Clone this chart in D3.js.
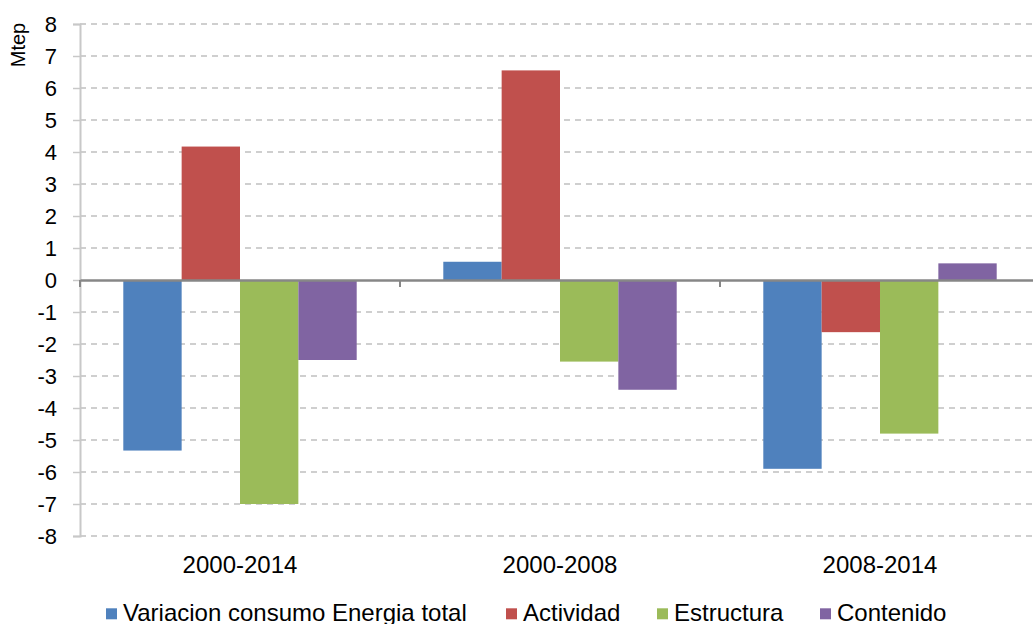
<!DOCTYPE html>
<html><head><meta charset="utf-8">
<script src="https://cdn.jsdelivr.net/npm/d3@7"></script>
<style>body{margin:0;background:#fff}svg{display:block;font-family:"Liberation Sans",Arial,sans-serif}</style>
</head><body>
<svg id="c" width="1033" height="624"></svg>
<script>
const categories = ["2000-2014", "2000-2008", "2008-2014"];
const seriesNames = ["Variacion consumo Energia total", "Actividad", "Estructura", "Contenido"];
const seriesColors = ["#4f81bd", "#c0504d", "#9bbb59", "#8064a2"];
const variacion = [-5.33, 0.57, -5.9];
const actividad = [4.17, 6.55, -1.63];
const estructura = [-7.0, -2.55, -4.8];
const contenido = [-2.5, -3.43, 0.52];
const yTicks = d3.range(-8, 9, 1);
const seriesValues = [variacion, actividad, estructura, contenido];

const FONT = '"Liberation Sans",Arial,sans-serif';
const svg = d3.select("#c");
const x = d3.scaleBand().domain(categories).range([80, 1040]).paddingInner(0).paddingOuter(0);
const xs = d3.scaleBand().domain(seriesNames).range([43.3, 320 - 43.3]);
const y = d3.scaleLinear().domain([-8, 8]).range([536, 24]);

// gridlines
svg.append("g").selectAll("line").data(yTicks.filter(d => d !== 0)).join("line")
  .attr("x1", 80).attr("x2", 1040)
  .attr("y1", d => y(d)).attr("y2", d => y(d))
  .attr("stroke", "#c0c0c0").attr("stroke-width", 1.3).attr("stroke-dasharray", "6,5");

// bars
const data = [];
categories.forEach((c, i) => seriesNames.forEach((s, j) => data.push({c, s, v: seriesValues[j][i], color: seriesColors[j]})));
svg.append("g").selectAll("rect").data(data).join("rect")
  .attr("x", d => x(d.c) + xs(d.s))
  .attr("width", xs.bandwidth())
  .attr("y", d => Math.min(y(d.v), y(0)))
  .attr("height", d => Math.abs(y(d.v) - y(0)))
  .attr("fill", d => d.color);

// y axis
const yAxis = d3.axisLeft(y).tickValues(yTicks).tickSize(7).tickPadding(16).tickFormat(d3.format("d"));
const gy = svg.append("g").attr("transform", "translate(80,0)").call(yAxis);
gy.attr("font-family", FONT).attr("font-size", 22);
gy.select(".domain").attr("stroke", "#c8c8c8").attr("stroke-width", 2);
gy.selectAll(".tick line").attr("stroke", "#c8c8c8").attr("stroke-width", 1.5);
gy.selectAll(".tick text").attr("fill", "#000").attr("dy", "0.36em")
  .text(d => d < 0 ? "-" + Math.abs(d) : d);

// zero line (x axis)
const xAxis = d3.axisBottom(x).tickSize(0).tickPadding(0);
const gx = svg.append("g").attr("transform", `translate(0,${y(0)})`).call(xAxis);
gx.attr("font-family", FONT).attr("font-size", 24);
gx.select(".domain").attr("stroke", "#878787").attr("stroke-width", 2.5);
gx.selectAll(".tick text").attr("fill", "#000")
  .attr("y", 573.3 - y(0)).attr("dy", 0);
// group separator ticks
svg.append("g").selectAll("line").data([80, 400, 720, 1040]).join("line")
  .attr("x1", d => d).attr("x2", d => d)
  .attr("y1", y(0)).attr("y2", y(0) + 7)
  .attr("stroke", "#878787").attr("stroke-width", 2);

// y label
svg.append("text").attr("transform", "translate(24.5,45) rotate(-90)")
  .attr("text-anchor", "middle").attr("font-size", 20).attr("fill", "#000").text("Mtep");

// legend
const legendX = [106, 506, 657, 820];
const lg = svg.append("g").selectAll("g").data(seriesNames).join("g")
  .attr("transform", (d, i) => `translate(${legendX[i]},0)`);
lg.append("rect").attr("x", 0).attr("y", 608.3).attr("width", 11).attr("height", 11)
  .attr("fill", (d, i) => seriesColors[i]);
lg.append("text").attr("x", 17).attr("y", 620.7).attr("font-size", 24).attr("fill", "#000").text(d => d);
</script>
</body></html>
